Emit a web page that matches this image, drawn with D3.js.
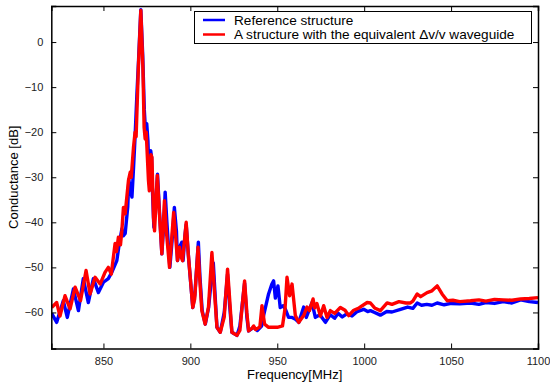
<!DOCTYPE html>
<html><head><meta charset="utf-8">
<script src="https://cdn.jsdelivr.net/npm/d3@7"></script>
<style>body{margin:0;background:#fff;} svg{display:block;font-family:"Liberation Sans",Arial,Helvetica,sans-serif;}</style>
</head><body>
<svg id="c" width="550" height="383"></svg>
<script>
const seriesNames = ["Reference structure", "A structure with the equivalent \u0394v/v waveguide"];
const seriesColors = ["#0000ff", "#ff0000"];
const xTicks = [850, 900, 950, 1000, 1050, 1100];
const yTicks = [-60, -50, -40, -30, -20, -10, 0];

const blueF = [820.2,823.1,826.9,829.2,832.7,835.6,838.4,841.3,844.2,847.1,850.0,852.8,854.8,857.7,859.0,860.6,861.5,862.5,864.0,864.6,865.6,866.4,867.3,868.2,869.2,870.2,871.5,872.6,873.5,874.3,874.9,875.6,876.4,877.2,877.7,878.2,879.0,880.0,881.1,882.0,883.6,884.8,885.5,886.5,888.2,889.5,890.8,892.0,892.6,893.8,895.1,895.8,897.0,897.6,899.0,901.4,902.6,904.6,905.5,906.8,908.6,910.5,911.5,913.2,914.5,915.3,917.2,919.5,921.4,922.5,923.9,926.8,928.5,931.2,932.5,933.5,936.4,938.5,941.0,942.3,945.0,946.9,947.9,948.9,950.4,951.7,953.4,954.6,956.5,958.5,960.5,962.4,965.2,966.7,970.0,971.9,974.5,977.7,980.5,983.0,985.0,987.4,990.0,993.0,996.0,999.7,1002.0,1003.6,1006.0,1009.3,1013.0,1016.0,1020.9,1025.0,1028.0,1030.5,1033.0,1036.0,1039.0,1042.0,1046.0,1050.0,1055.0,1061.2,1066.0,1070.0,1075.0,1080.0,1085.0,1090.0,1095.0,1100.0];
const blueDB = [-60.2,-62.2,-57.4,-61.1,-54.8,-59.6,-52.5,-57.8,-52.5,-55.6,-53.3,-52.5,-51.1,-48.5,-45.0,-41.5,-43.0,-42.5,-36.5,-30.5,-33.0,-34.4,-28.0,-21.0,-12.0,-4.0,7.2,-3.0,-15.0,-20.5,-18.1,-22.0,-31.5,-24.1,-25.6,-33.0,-41.1,-36.0,-29.3,-36.0,-47.0,-40.0,-33.3,-40.0,-50.0,-44.0,-36.7,-42.0,-48.5,-45.5,-44.4,-48.5,-42.5,-40.5,-48.0,-58.9,-56.0,-44.4,-52.0,-59.6,-62.6,-58.9,-55.0,-49.0,-58.0,-63.3,-64.4,-60.0,-51.5,-58.0,-64.4,-65.1,-63.0,-53.5,-61.0,-64.1,-63.3,-64.0,-63.0,-60.4,-55.9,-53.7,-53.0,-56.8,-54.1,-58.9,-58.5,-59.2,-61.1,-61.1,-61.5,-62.2,-58.8,-61.1,-57.8,-61.1,-60.5,-62.2,-60.5,-61.3,-60.2,-61.0,-60.3,-60.8,-59.8,-59.3,-59.8,-59.6,-60.0,-60.6,-59.8,-59.9,-59.3,-58.8,-59.1,-57.9,-58.4,-58.2,-58.4,-57.9,-58.3,-58.0,-58.1,-57.9,-58.2,-57.8,-58.0,-57.6,-57.9,-57.2,-57.6,-57.8];

const redF = [820.2,823.1,825.0,827.9,830.8,833.7,836.8,840.0,842.3,845.2,848.1,850.9,852.8,854.5,856.7,857.5,858.6,859.8,860.6,861.5,862.5,864.4,865.4,866.0,867.3,868.2,868.8,870.1,871.5,872.7,873.4,874.0,874.6,875.9,876.4,877.3,877.9,878.8,879.4,881.0,882.2,883.6,885.1,886.2,888.0,890.4,891.5,892.6,893.7,894.5,895.5,897.6,898.8,901.4,902.5,904.4,905.3,906.6,908.5,910.4,912.4,913.8,915.3,917.2,919.5,921.4,922.6,923.9,926.8,928.5,931.2,932.5,933.5,935.5,936.4,937.5,940.0,941.2,942.7,945.0,950.0,953.0,954.5,955.6,957.1,958.5,960.4,962.3,965.2,967.1,968.5,970.6,971.5,972.8,974.8,976.7,978.6,980.5,983.0,986.3,989.0,991.1,994.0,997.0,1001.7,1003.6,1006.0,1009.3,1013.2,1016.0,1020.0,1024.0,1026.6,1028.0,1030.5,1032.5,1036.2,1039.0,1042.0,1044.8,1047.8,1051.0,1055.0,1061.2,1066.0,1070.0,1075.0,1080.0,1085.0,1090.0,1095.0,1100.0];
const redDB = [-58.9,-57.8,-60.8,-56.3,-59.2,-54.4,-57.4,-50.7,-55.9,-52.2,-53.7,-51.1,-50.0,-51.5,-44.7,-46.5,-43.3,-45.0,-41.8,-36.7,-38.1,-30.7,-28.9,-30.0,-23.3,-20.0,-21.0,-5.6,7.0,-5.6,-18.9,-21.5,-20.0,-30.7,-33.0,-25.0,-25.6,-38.9,-41.9,-29.6,-38.0,-47.0,-35.2,-42.0,-50.0,-37.8,-43.0,-48.5,-45.5,-47.5,-48.5,-40.0,-47.0,-58.9,-57.0,-45.5,-52.0,-59.6,-62.6,-58.9,-46.7,-55.0,-63.3,-64.4,-61.0,-50.4,-57.0,-64.4,-65.1,-64.0,-53.0,-60.0,-64.1,-63.5,-63.0,-63.8,-63.2,-58.5,-62.6,-63.3,-63.3,-63.0,-59.0,-52.2,-56.3,-53.7,-60.7,-62.2,-60.7,-58.8,-59.6,-57.0,-59.0,-58.0,-60.8,-58.5,-61.1,-59.6,-60.2,-58.9,-59.5,-60.7,-59.5,-59.0,-57.8,-57.9,-59.0,-59.6,-57.9,-58.2,-57.6,-57.9,-57.9,-57.5,-55.9,-56.5,-55.6,-55.2,-54.1,-55.9,-57.4,-57.3,-57.6,-57.4,-57.2,-57.5,-57.1,-57.2,-57.3,-57.0,-56.9,-56.7];

const svg = d3.select("#c");
const L = 51.3, R = 538, T = 6, B = 348.5;
const x = d3.scaleLinear().domain([820, 1100]).range([L, R]);
const y = d3.scaleLinear().domain([-68, 8]).range([B, T]);

svg.append("defs").append("clipPath").attr("id","clip").append("rect")
  .attr("x", L).attr("y", T).attr("width", R-L).attr("height", B-T);

const line = d3.line().x(d => x(d[0])).y(d => y(d[1]));
const series = [d3.zip(blueF, blueDB), d3.zip(redF, redDB)];
const g = svg.append("g").attr("clip-path", "url(#clip)");
series.forEach((s, i) => {
  g.append("path").datum(s).attr("d", line).attr("fill", "none")
    .attr("stroke", seriesColors[i]).attr("stroke-width", 3.4).attr("stroke-linejoin", "round");
});

// axes (inward ticks, mirrored)
const fmt = d => d < 0 ? "\u2212" + Math.abs(d) : String(d);
const axB = svg.append("g").attr("transform", `translate(0,${B})`)
  .call(d3.axisBottom(x).tickValues(xTicks).tickSize(-5).tickPadding(9).tickFormat(fmt));
const axT = svg.append("g").attr("transform", `translate(0,${T})`)
  .call(d3.axisTop(x).tickValues(xTicks).tickSize(-5).tickFormat(""));
const axL = svg.append("g").attr("transform", `translate(${L},0)`)
  .call(d3.axisLeft(y).tickValues(yTicks).tickSize(-5).tickPadding(8).tickFormat(fmt));
const axR = svg.append("g").attr("transform", `translate(${R},0)`)
  .call(d3.axisRight(y).tickValues(yTicks).tickSize(-5).tickFormat(""));
[axB, axT, axL, axR].forEach(a => {
  a.select(".domain").attr("stroke", "#000").attr("stroke-width", 1.5);
  a.selectAll(".tick line").attr("stroke", "#000").attr("stroke-width", 1);
  a.selectAll(".tick text").attr("fill", "#222").attr("font-size", 11)
    .attr("font-family", "Liberation Sans, Arial, sans-serif");
});

svg.append("text").attr("x", (L+R)/2).attr("y", 379).attr("text-anchor", "middle")
  .attr("font-size", 13).attr("fill", "#000").text("Frequency[MHz]");
svg.append("text").attr("transform", `translate(18,${(T+B)/2}) rotate(-90)`)
  .attr("text-anchor", "middle").attr("font-size", 13).attr("fill", "#000").text("Conductance [dB]");

// legend
const lg = svg.append("g");
lg.append("rect").attr("x", 194.5).attr("y", 11.5).attr("width", 337).attr("height", 32)
  .attr("fill", "#fff").attr("stroke", "#000").attr("stroke-width", 1);
seriesNames.forEach((n, i) => {
  const yy = 20 + i * 14.5;
  lg.append("line").attr("x1", 203).attr("x2", 225).attr("y1", yy).attr("y2", yy)
    .attr("stroke", seriesColors[i]).attr("stroke-width", 2.5);
  lg.append("text").attr("x", 234).attr("y", yy + 4.5).attr("font-size", 13.6).attr("fill", "#000").text(n);
});
</script>
</body></html>
